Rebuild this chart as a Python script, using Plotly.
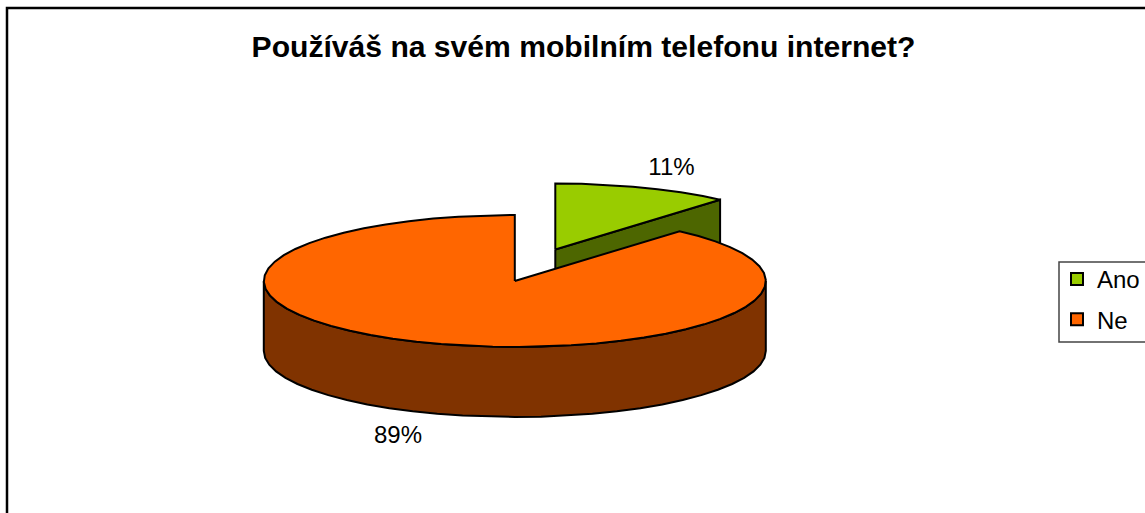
import numpy as np
import plotly.graph_objects as go

labels = ['Ano', 'Ne']
values = [11.4, 88.6]
top_colors = ['#99CC00', '#FF6600']
side_colors = ['#4D6600', '#803300']
title_text = 'Používáš na svém mobilním telefonu internet?'

FONT = 'Liberation Sans'
CX, CY = 514.8, 281      # centre of the pie top, in page pixels
RX, RY = 251, 66
DEPTH = 70
EXPLODE = (40.5, -31.5)  # the Ano slice is pulled out
STEP = 6                 # the original rim is a coarse polygon


def rim(start, end, dx=0, dy=0, drop=0):
    # angles are degrees clockwise from 12 o'clock
    a = np.radians(np.append(np.arange(start, end, STEP), end))
    return CX + dx + RX * np.sin(a), CY + dy + drop - RY * np.cos(a)


def poly(fig, xs, ys, color):
    fig.add_trace(go.Scatter(x=xs, y=ys, mode='lines', fill='toself', fillcolor=color,
                             line=dict(color='black', width=2), hoverinfo='skip', showlegend=False))


ano_end = values[0] / sum(values) * 360
fig = go.Figure()

# Ano slice, front wall first
dx, dy = EXPLODE
tx, ty = rim(ano_end, ano_end, dx, dy)
poly(fig, [CX + dx, tx[0], tx[0], CX + dx, CX + dx],
     [CY + dy, ty[0], ty[0] + DEPTH, CY + dy + DEPTH, CY + dy], side_colors[0])
x, y = rim(0, ano_end, dx, dy)
poly(fig, np.r_[CX + dx, x, CX + dx], np.r_[CY + dy, y, CY + dy], top_colors[0])

# Ne slice: outer wall from 3 o'clock round the front to 9 o'clock
x1, y1 = rim(90, 270)
x2, y2 = rim(90, 270, drop=DEPTH)
poly(fig, np.r_[x1, x2[::-1], x1[0]], np.r_[y1, y2[::-1], y1[0]], side_colors[1])
x, y = rim(ano_end, 360)
poly(fig, np.r_[CX, x, CX], np.r_[CY, y, CY], top_colors[1])

# percentage labels
fig.add_trace(go.Scatter(x=[671.5, 398], y=[169, 437], mode='text',
                         text=[f'{v:.0f}%' for v in values], textposition='middle center',
                         textfont=dict(family=FONT, size=24, color='black'),
                         hoverinfo='skip', showlegend=False))

# legend swatches
for name, color in zip(labels, top_colors):
    fig.add_trace(go.Scatter(x=[None], y=[None], mode='markers', name=name, legendgroup=name,
                             marker=dict(symbol='square', size=12, color=color,
                                         line=dict(color='black', width=2))))

# chart frame, right and bottom sides fall outside the page
fig.add_shape(type='rect', xref='x', yref='y', x0=7, y0=8, x1=1175, y1=540,
              line=dict(color='black', width=2.5), layer='below')
# legend frame, also cut by the page edge
fig.add_shape(type='rect', xref='x', yref='y', x0=1059, y0=262, x1=1175, y1=342,
              line=dict(color='#444444', width=1.5), layer='below')

fig.update_layout(
    width=1145, height=513,
    margin=dict(l=0, r=0, t=0, b=0),
    paper_bgcolor='white', plot_bgcolor='white',
    title=dict(text=f'<b>{title_text}</b>', x=583.5 / 1145, y=1 - 46 / 513,
               xanchor='center', yanchor='middle',
               font=dict(family=FONT, size=30.1, color='black')),
    xaxis=dict(range=[0, 1145], visible=False, fixedrange=True),
    yaxis=dict(range=[513, 0], visible=False, fixedrange=True),
    legend=dict(x=1057 / 1145, y=1 - 257 / 513, xanchor='left', yanchor='top',
                bgcolor='rgba(0,0,0,0)', borderwidth=0,
                tracegroupgap=6, itemwidth=30,
                font=dict(family=FONT, size=24, color='black')),
)

fig.write_html('out.html', config={'displayModeBar': False},
               post_script="document.body.style.margin='0';document.body.style.overflow='hidden';")
